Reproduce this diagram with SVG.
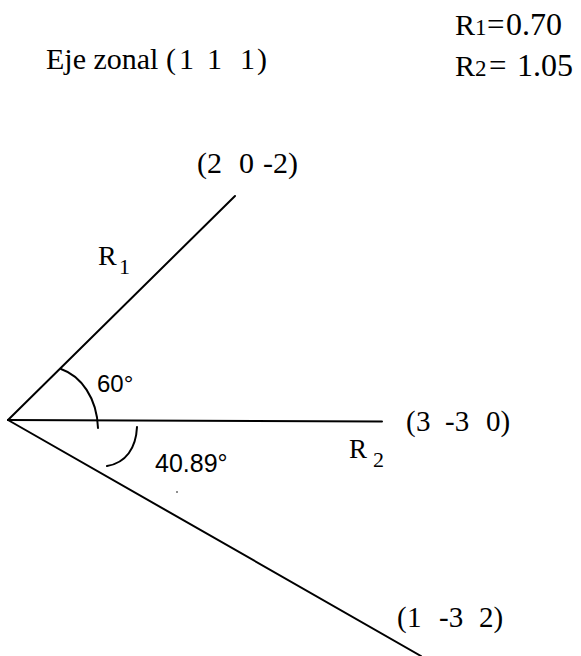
<svg xmlns="http://www.w3.org/2000/svg" width="581" height="656" viewBox="0 0 581 656">
<style>
.ln{stroke:#000;stroke-width:2;fill:none;stroke-linecap:round}
.arc{stroke:#000;stroke-width:2;fill:none;stroke-linecap:round}
.serif{font-family:"Liberation Serif","Times New Roman",serif;fill:#000}
.sans{font-family:"Liberation Sans",Arial,sans-serif;fill:#000}
</style>
<rect width="581" height="656" fill="#fff"/>
<g id="header">
  <text class="serif" font-size="30" x="46" y="69">Eje zonal (<tspan x="179">1</tspan><tspan x="207">1</tspan><tspan x="240">1</tspan><tspan x="257">)</tspan></text>
  <text class="serif" font-size="30" x="455" y="35">R<tspan x="475" font-size="23">1</tspan><tspan x="487" font-size="31">=</tspan><tspan x="506" font-size="32">0.70</tspan></text>
  <text class="serif" font-size="30" x="455" y="76">R<tspan x="475" font-size="23">2</tspan><tspan x="489" font-size="31">=</tspan><tspan x="517" font-size="32">1.05</tspan></text>
</g>
<g id="connectors">
  <line class="ln" x1="8" y1="420" x2="235" y2="196"/>
  <line class="ln" x1="8" y1="420" x2="382" y2="421.5"/>
  <line class="ln" x1="8" y1="420" x2="421" y2="656"/>
  <path class="arc" d="M61,369 C81,376 97,398 98,428"/>
  <path class="arc" d="M137,427 C136,448 126,463 107,466"/>
</g>
<g id="dir-202">
  <text class="serif" font-size="30" x="197" y="173">(<tspan x="207">2</tspan><tspan x="239">0</tspan><tspan x="263">-2)</tspan></text>
</g>
<g id="dir-3-30">
  <text class="serif" font-size="29" x="406" y="431">(<tspan x="416">3</tspan><tspan x="445">-3</tspan><tspan x="486">0)</tspan></text>
</g>
<g id="dir-1-32">
  <text class="serif" font-size="29" x="397" y="627">(<tspan x="407">1</tspan><tspan x="439">-3</tspan><tspan x="479">2)</tspan></text>
</g>
<g id="label-R1">
  <text class="serif" font-size="28" x="98" y="265">R<tspan x="119" y="274" font-size="22">1</tspan></text>
</g>
<g id="label-R2">
  <text class="serif" font-size="27" x="349" y="458">R<tspan x="373" y="467" font-size="22">2</tspan></text>
</g>
<g id="angle-60">
  <text class="sans" font-size="24" x="97" y="392">60°</text>
</g>
<g id="angle-4089">
  <text class="sans" font-size="25" x="155" y="472">40.89°</text>
</g>
<circle cx="177" cy="492" r="0.8" fill="#000"/>
</svg>
